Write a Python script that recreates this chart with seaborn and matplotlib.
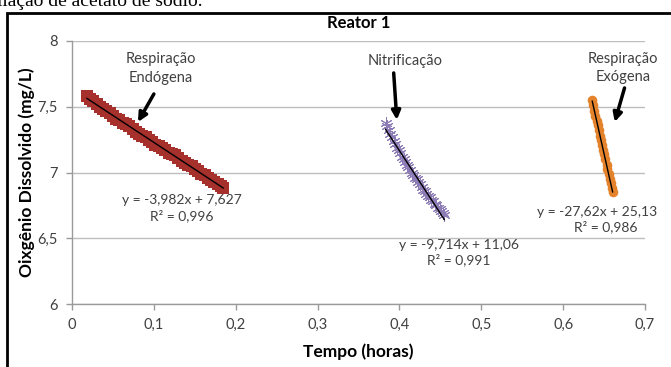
import matplotlib
matplotlib.use("Agg")
import matplotlib.pyplot as plt
from matplotlib.patches import Rectangle
import seaborn as sns

# --- dados ---
endo_t = [0.018, 0.022, 0.026, 0.030, 0.034, 0.038, 0.042, 0.046, 0.050, 0.054,
          0.058, 0.062, 0.066, 0.070, 0.074, 0.078, 0.082, 0.086, 0.090, 0.094,
          0.098, 0.102, 0.106, 0.110, 0.114, 0.118, 0.122, 0.126, 0.130, 0.134,
          0.138, 0.142, 0.146, 0.150, 0.154, 0.158, 0.162, 0.166, 0.170, 0.174,
          0.178, 0.182, 0.185]
endo_od = [7.58, 7.56, 7.54, 7.52, 7.50, 7.48, 7.47, 7.45, 7.43, 7.41,
           7.40, 7.38, 7.37, 7.35, 7.33, 7.31, 7.29, 7.28, 7.27, 7.25,
           7.23, 7.21, 7.20, 7.19, 7.17, 7.15, 7.14, 7.13, 7.11, 7.09,
           7.07, 7.06, 7.05, 7.03, 7.01, 6.99, 6.98, 6.96, 6.94, 6.93,
           6.91, 6.90, 6.88]

nitr_t = [0.383, 0.385, 0.387, 0.389, 0.391, 0.393, 0.395, 0.397, 0.399, 0.401,
          0.403, 0.405, 0.407, 0.409, 0.411, 0.413, 0.415, 0.417, 0.419, 0.421,
          0.423, 0.425, 0.427, 0.429, 0.431, 0.433, 0.435, 0.437, 0.439, 0.441,
          0.443, 0.445, 0.447, 0.449, 0.451, 0.453, 0.455]
nitr_od = [7.38, 7.35, 7.32, 7.29, 7.27, 7.24, 7.22, 7.19, 7.17, 7.15,
           7.12, 7.10, 7.08, 7.06, 7.04, 7.02, 7.00, 6.98, 6.96, 6.95,
           6.93, 6.91, 6.89, 6.87, 6.86, 6.84, 6.82, 6.81, 6.79, 6.78,
           6.76, 6.75, 6.73, 6.72, 6.71, 6.69, 6.68]

exo_t = [0.6355, 0.637, 0.638, 0.6395, 0.641, 0.642, 0.6435, 0.645, 0.646, 0.6475,
         0.649, 0.650, 0.6515, 0.653, 0.654, 0.6555, 0.657, 0.658, 0.6595, 0.6605]
exo_od = [7.55, 7.51, 7.47, 7.43, 7.39, 7.36, 7.32, 7.28, 7.25, 7.21,
          7.17, 7.14, 7.10, 7.06, 7.03, 6.99, 6.95, 6.92, 6.88, 6.85]

x_ticks = [0, 0.1, 0.2, 0.3, 0.4, 0.5, 0.6, 0.7]
y_ticks = [6, 6.5, 7, 7.5, 8]

sns.set_theme(style="white")
plt.rcParams["font.family"] = ["Lato", "DejaVu Sans"]
txt = "#404040"

fig = plt.figure(figsize=(6.71, 3.67), dpi=100)
ax = fig.add_axes([72 / 671, 1 - 304 / 367, (645 - 72) / 671, (304 - 41) / 367])

# series + linhas de tendencia
sns.regplot(x=endo_t, y=endo_od, ax=ax, ci=None, marker="s", color="#A5302C",
            scatter_kws={"s": 70, "linewidths": 0, "alpha": 1},
            line_kws={"color": "black", "lw": 1})
sns.regplot(x=nitr_t, y=nitr_od, ax=ax, ci=None, marker=(6, 2, 0), color="#8C7BB5",
            scatter_kws={"s": 70, "linewidths": 0.7, "alpha": 1},
            line_kws={"color": "black", "lw": 1})
sns.regplot(x=exo_t, y=exo_od, ax=ax, ci=None, marker="o", color="#E5832C",
            scatter_kws={"s": 48, "linewidths": 0, "alpha": 1},
            line_kws={"color": "black", "lw": 1})

ax.set_xlim(0, 0.7)
ax.set_ylim(6, 8)
ax.set_xticks(x_ticks)
ax.set_yticks(y_ticks)
ax.set_xticklabels([f"{v:g}".replace(".", ",") for v in x_ticks], color=txt, fontsize=10.5)
ax.set_yticklabels([f"{v:g}".replace(".", ",") for v in y_ticks], color=txt, fontsize=10.5)
ax.yaxis.grid(True, color="#BDBDBD", lw=1)
ax.xaxis.grid(False)
for s in ["top", "right"]:
    ax.spines[s].set_visible(False)
for s in ["left", "bottom"]:
    ax.spines[s].set_color("#9A9A9A")
    ax.spines[s].set_linewidth(1)
ax.tick_params(axis="both", direction="out", length=4, width=1, color="#9A9A9A",
               bottom=True, left=True, pad=6)

ax.set_title("Reator 1", fontsize=12, fontweight="bold", color="black", pad=9)
ax.set_xlabel("Tempo (horas)", fontsize=12.5, fontweight="bold", color="black", labelpad=8)
ax.set_ylabel("Oixgênio Dissolvido (mg/L)", fontsize=12.5, fontweight="bold", color="black", labelpad=2)

# equacoes
eq_kw = dict(ha="center", va="center", fontsize=10, color=txt)
ax.text(0.134, 6.79, "y = -3,982x + 7,627", **eq_kw)
ax.text(0.134, 6.67, "R² = 0,996", **eq_kw)
ax.text(0.4725, 6.45, "y = -9,714x + 11,06", **eq_kw)
ax.text(0.4725, 6.335, "R² = 0,991", **eq_kw)
ax.text(0.642, 6.70, "y = -27,62x + 25,13", **eq_kw)
ax.text(0.652, 6.585, "R² = 0,986", **eq_kw)

# rotulos com setas
lab_kw = dict(ha="center", va="center", fontsize=10.5, color=txt)
arrow = dict(arrowstyle="-|>", color="black", lw=2.5, mutation_scale=13, shrinkA=0, shrinkB=0)
ax.text(0.109, 7.86, "Respiração", **lab_kw)
ax.text(0.109, 7.72, "Endógena", **lab_kw)
ax.annotate("", xy=(0.0806, 7.384), xytext=(0.100, 7.597), arrowprops=arrow)
ax.text(0.407, 7.85, "Nitrificação", **lab_kw)
ax.annotate("", xy=(0.3968, 7.40), xytext=(0.393, 7.757), arrowprops=arrow)
ax.text(0.673, 7.86, "Respiração", **lab_kw)
ax.text(0.673, 7.73, "Exógena", **lab_kw)
ax.annotate("", xy=(0.663, 7.384), xytext=(0.675, 7.643), arrowprops=arrow)

# moldura e texto cortado do documento
fig.patches.append(Rectangle((7 / 671, -0.5), 1.5, 0.5 + (1 - 13 / 367), transform=fig.transFigure,
                             fill=False, lw=2, edgecolor="black"))
fig.text(-0.004, 1 - 6 / 367, "ılação de acetato de sódio.", family=["Liberation Serif", "DejaVu Serif"],
         fontsize=14, ha="left", va="baseline", color="black")

fig.savefig("out.png", dpi=100)
